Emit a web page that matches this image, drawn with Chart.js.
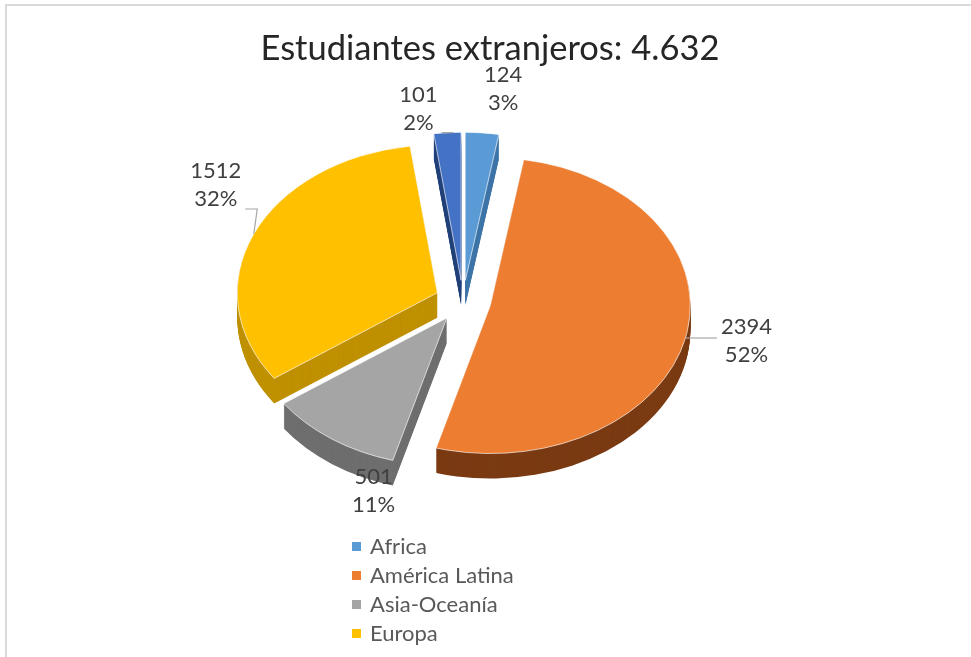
<!DOCTYPE html>
<html>
<head>
<meta charset="utf-8">
<script src="https://cdn.jsdelivr.net/npm/chart.js@4.4.1/dist/chart.umd.min.js"></script>
<style>
  html, body { margin:0; padding:0; background:#ffffff; width:971px; height:657px; overflow:hidden; }
  #frame { position:absolute; left:5px; top:4px; width:980px; height:670px; border-top:2px solid #d9d9d9; border-left:2px solid #d9d9d9; }
  #wrap { position:absolute; left:0; top:0; width:971px; height:657px; }
  #title { position:absolute; left:9px; top:26px; width:962px; height:42px; line-height:42px; text-align:center; font-family:Lato, "Open Sans", sans-serif; font-size:34.5px; color:#262626; white-space:nowrap; }
  #legend { position:absolute; left:352px; top:531px; height:116px; overflow:hidden; font-family:Lato, "Open Sans", sans-serif; font-size:22px; color:#595959; }
  #legend .item { height:29px; line-height:29px; white-space:nowrap; }
  #legend .sw { display:inline-block; width:9px; height:9px; margin-right:9px; vertical-align:middle; position:relative; top:-2px; }
</style>
</head>
<body>
<div id="frame"></div>
<div id="wrap"><canvas id="c" width="971" height="657"></canvas></div>
<div id="title"></div>
<div id="legend"></div>
<script>
// ---- data ----
const chartTitle = 'Estudiantes extranjeros: 4.632';
const categories = ['Africa', 'América Latina', 'Asia-Oceanía', 'Europa', 'Norteamérica'];
const students = [124, 2394, 501, 1512, 101];
const percentLabels = ['3%', '52%', '11%', '32%', '2%'];
const sliceColors = ['#5B9BD5', '#ED7D31', '#A5A5A5', '#FFC000', '#4472C4'];
const sideColors = ['#3F75A8', '#7A3A12', '#6E6E6E', '#BF9000', '#22407A'];

// ---- 3D exploded pie drawing, using the arc geometry computed by Chart.js ----
function arcFrame(arc, ex) {
  const a = (arc.startAngle + arc.endAngle) / 2;
  return { a, ox: Math.cos(a) * ex, oy: Math.sin(a) * ex };
}
const pie3d = {
  id: 'pie3d',
  beforeDatasetsDraw(chart, args, opts) {
    const ctx = chart.ctx;
    const arcs = chart.getDatasetMeta(0).data;
    const k = opts.tilt, depth = opts.depth, ex = opts.explode;
    const cx = arcs[0].x, cy = arcs[0].y;
    // side walls (extrusion)
    arcs.forEach((arc, i) => {
      const f = arcFrame(arc, ex);
      ctx.save();
      ctx.fillStyle = opts.sides[i];
      for (let d = depth; d >= 1; d -= 1) {
        ctx.save();
        ctx.translate(0, d);
        ctx.translate(cx, cy); ctx.scale(1, k); ctx.translate(-cx, -cy);
        ctx.translate(f.ox, f.oy);
        ctx.beginPath();
        ctx.moveTo(arc.x, arc.y);
        ctx.arc(arc.x, arc.y, arc.outerRadius, arc.startAngle, arc.endAngle);
        ctx.closePath();
        ctx.fill();
        ctx.restore();
      }
      ctx.restore();
    });
    // top faces drawn by the library's own arc elements
    arcs.forEach((arc) => {
      const f = arcFrame(arc, ex);
      ctx.save();
      ctx.translate(cx, cy); ctx.scale(1, k); ctx.translate(-cx, -cy);
      ctx.translate(f.ox, f.oy);
      arc.draw(ctx);
      ctx.restore();
    });
    return false;
  },
  afterDraw(chart, args, opts) {
    const ctx = chart.ctx;
    const arcs = chart.getDatasetMeta(0).data;
    const k = opts.tilt, ex = opts.explode;
    const cx = arcs[0].x, cy = arcs[0].y;
    ctx.save();
    ctx.font = opts.labelFont;
    ctx.textAlign = 'center';
    ctx.textBaseline = 'middle';
    arcs.forEach((arc, i) => {
      const a = (arc.startAngle + arc.endAngle) / 2;
      const ax = cx + Math.cos(a) * (ex + arc.outerRadius);
      const ay = cy + Math.sin(a) * (ex + arc.outerRadius) * k;
      const lx = ax + opts.nudge[i][0];
      const ly = ay + opts.nudge[i][1];
      const l1 = String(students[i]);
      const l2 = percentLabels[i];
      const w = Math.max(ctx.measureText(l1).width, ctx.measureText(l2).width);
      const lh = opts.lineHeight;
      if (opts.leader[i]) {
        const left = ax < lx;
        const sx = left ? lx - w / 2 - 4 : lx + w / 2 + 4;
        const sy = Math.min(Math.max(ay, ly - lh), ly + lh - 4);
        const mx = left ? sx - 12 : sx + 12;
        ctx.strokeStyle = '#A6A6A6';
        ctx.lineWidth = 1.2;
        ctx.beginPath();
        ctx.moveTo(sx, sy);
        ctx.lineTo(mx, sy);
        ctx.lineTo(ax, ay);
        ctx.stroke();
      }
      ctx.fillStyle = '#404040';
      ctx.fillText(l1, lx, ly - lh / 2);
      ctx.fillText(l2, lx, ly + lh / 2);
    });
    ctx.restore();
  }
};

new Chart(document.getElementById('c'), {
  type: 'pie',
  data: {
    labels: categories,
    datasets: [{
      data: students,
      backgroundColor: sliceColors,
      borderColor: 'rgba(255,255,255,0.75)',
      borderWidth: 1,
      radius: 200
    }]
  },
  plugins: [pie3d],
  options: {
    responsive: false,
    animation: false,
    events: [],
    layout: { padding: { left: 0, right: 45, top: 66, bottom: 121 } },
    plugins: {
      legend: { display: false },
      tooltip: { enabled: false },
      title: { display: false },
      pie3d: {
        tilt: 0.74,
        depth: 25,
        explode: 28,
        labelFont: '22px Lato',
        lineHeight: 28,
        nudge: [[21, -44], [61, 3], [42, 52], [-38, -49], [-29, -24]],
        leader: [false, true, false, true, true],
        sides: sideColors
      }
    }
  }
});

// HTML title and legend built from the same arrays
document.getElementById('title').textContent = chartTitle;
const legendEl = document.getElementById('legend');
categories.forEach((name, i) => {
  const it = document.createElement('div');
  it.className = 'item';
  const sw = document.createElement('span');
  sw.className = 'sw';
  sw.style.background = sliceColors[i];
  it.appendChild(sw);
  it.appendChild(document.createTextNode(name));
  legendEl.appendChild(it);
});
</script>
</body>
</html>
